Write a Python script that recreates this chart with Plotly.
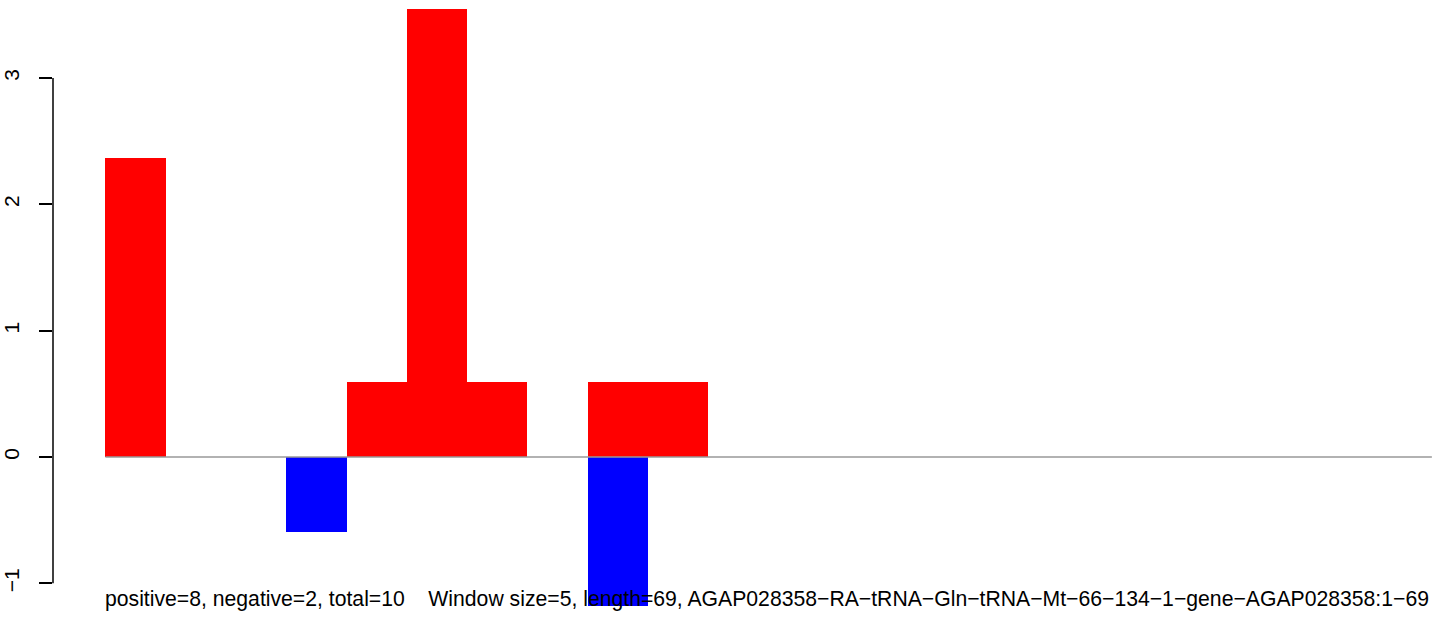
import plotly.graph_objects as go

# Window index (22 windows), positive and negative scores
windows = list(range(22))
pos_values = [2.37, 0, 0, 0, 0.59, 3.55, 0.59, 0, 0.59, 0.59, 0, 0, 0, 0, 0, 0, 0, 0, 0, 0, 0, 0]
neg_values = [0, 0, 0, -0.59, 0, 0, 0, 0, -1.18, 0, 0, 0, 0, 0, 0, 0, 0, 0, 0, 0, 0, 0]
y_ticks = [-1, 0, 1, 2, 3]
y_tick_text = ["\u22121", "0", "1", "2", "3"]
caption = ("positive=8, negative=2, total=10    Window size=5, length=69, "
           "AGAP028358\u2212RA\u2212tRNA\u2212Gln\u2212tRNA\u2212Mt\u221266\u2212134\u22121\u2212gene\u2212AGAP028358:1\u221269")

W, H = 1444, 618
left_px = 51
x0_px = 103.5
unit_x = 60.38
zero_px = 457.0
unit_y = 126.3

x_range = [-(x0_px - left_px) / unit_x, -(x0_px - left_px) / unit_x + (W - left_px) / unit_x]
y_range = [-(H - zero_px) / unit_y, zero_px / unit_y]

centers = [w + 0.5 for w in windows]

fig = go.Figure()
# baseline
fig.add_trace(go.Scatter(x=[0, len(windows)], y=[0, 0], mode="lines",
                         line=dict(color="#999999", width=1.4), hoverinfo="skip", showlegend=False))
fig.add_trace(go.Bar(x=centers, y=pos_values, width=[1] * len(windows),
                     marker=dict(color="#FF0000", line=dict(width=0)), showlegend=False))
fig.add_trace(go.Bar(x=centers, y=neg_values, width=[1] * len(windows),
                     marker=dict(color="#0000FF", line=dict(width=0)), showlegend=False))

fig.update_layout(
    width=W, height=H,
    margin=dict(l=left_px, r=0, t=0, b=0),
    paper_bgcolor="white", plot_bgcolor="white",
    barmode="relative", bargap=0,
    font=dict(family="Liberation Sans, Arial, sans-serif", size=21, color="black"),
    xaxis=dict(range=x_range, visible=False, showgrid=False, zeroline=False),
    yaxis=dict(range=y_range, showgrid=False, zeroline=False, showline=False,
               tickmode="array", tickvals=y_ticks, ticktext=y_tick_text,
               ticks="outside", ticklen=13, tickwidth=1.5, tickcolor="black",
               tickangle=-90, tickfont=dict(size=21, color="black"),
               ticklabelstandoff=12),
    shapes=[dict(type="line", xref="paper", yref="y", x0=0, x1=0, y0=-1, y1=3,
                 line=dict(color="black", width=1.5))],
    annotations=[dict(text=caption, xref="paper", yref="paper",
                      x=(101 - left_px) / (W - left_px), y=1 - 599 / H,
                      xanchor="left", yanchor="middle", showarrow=False,
                      font=dict(size=21.2, color="black"))],
)

fig.write_html("out.html", config={"displayModeBar": False},
               post_script="document.body.style.margin='0';document.body.style.overflow='hidden';")
